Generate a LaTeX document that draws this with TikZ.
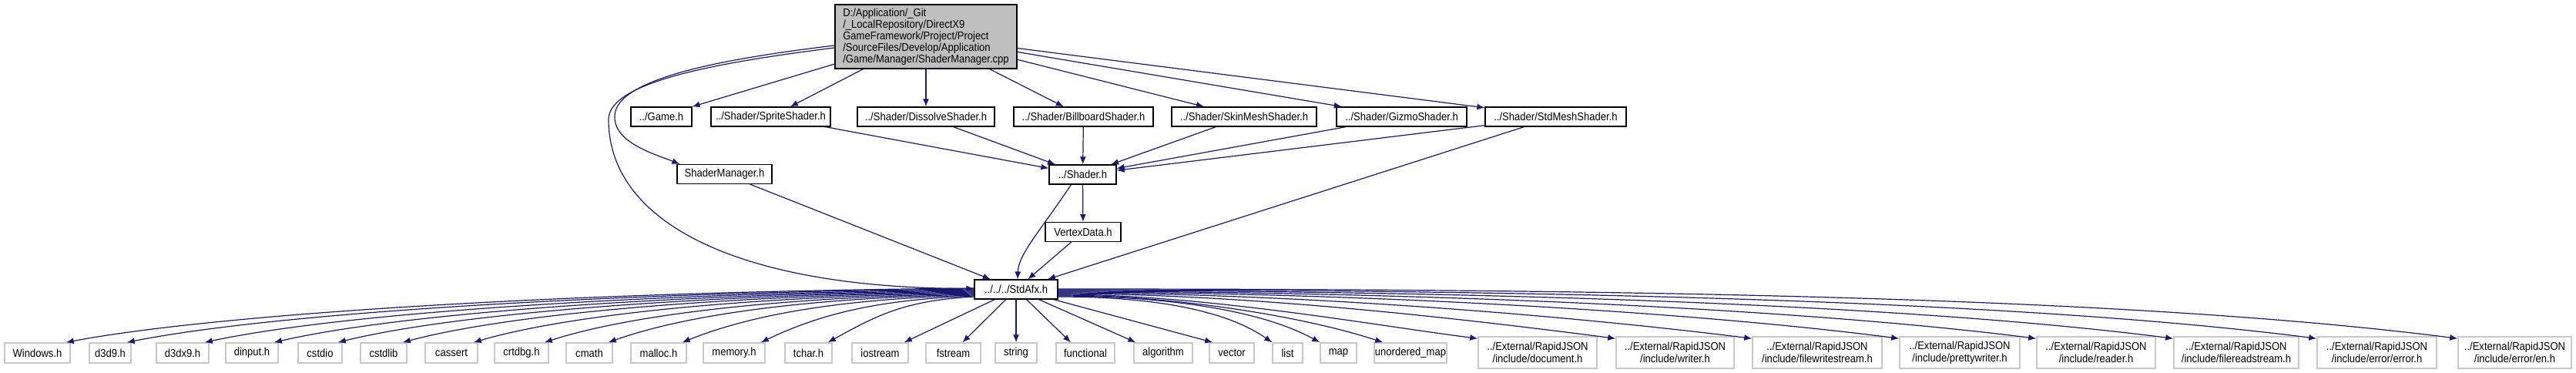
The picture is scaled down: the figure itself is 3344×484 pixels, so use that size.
\documentclass[tikz,border=0pt]{standalone}
\usepackage{fontspec}
\setmainfont{Liberation Sans}[FakeStretch=0.9]
\usepackage{xcolor}
\usetikzlibrary{arrows.meta}
\usetikzlibrary{math}
\definecolor{mynavy}{RGB}{25,25,112}
\definecolor{mygray}{RGB}{191,191,191}
\definecolor{mylightgray}{RGB}{200,200,200}

\tikzset{
  filebox/.style={draw=black, fill=white, line width=1.2pt, minimum height=25pt, inner xsep=1pt, inner ysep=0pt, font=\fontsize{14.5}{15}\selectfont},
  sysbox/.style={draw=mylightgray, fill=white, line width=1.5pt, minimum height=26pt, inner xsep=1pt, inner ysep=0pt, align=center, font=\fontsize{14.5}{16.5}\selectfont},
  dep/.style={draw=mynavy, line width=1.2pt, -{Latex[length=10pt,width=8pt]}},
}

\begin{document}
\begin{tikzpicture}[x=1pt,y=-1pt]
\tikzmath{
\yfile=151.5;
\yshader=226.5;
\yvertex=301;
\yafx=375.5;
\ysys=458;
}
\useasboundingbox (0,0) rectangle (3344,484);

\node[filebox, fill=mygray, align=left, inner xsep=10pt, inner ysep=3pt, minimum width=236pt, minimum height=83pt] (root) at (1202,47.5) {D:/Application/\_Git\\/\_LocalRepository/DirectX9\\GameFramework/Project/Project\\/SourceFiles/Develop/Application\\/Game/Manager/ShaderManager.cpp};

\node[filebox, minimum width=79pt] (game) at (858.5,\yfile) {../Game.h};
\node[filebox, minimum width=155pt] (sprite) at (1000.5,\yfile) {../Shader/SpriteShader.h};
\node[filebox, minimum width=178pt] (dissolve) at (1202,\yfile) {../Shader/DissolveShader.h};
\node[filebox, minimum width=181pt] (billboard) at (1406.5,\yfile) {../Shader/BillboardShader.h};
\node[filebox, minimum width=188pt] (skinmesh) at (1615,\yfile) {../Shader/SkinMeshShader.h};
\node[filebox, minimum width=169pt] (gizmo) at (1819.5,\yfile) {../Shader/GizmoShader.h};
\node[filebox, minimum width=183pt] (stdmesh) at (2019.5,\yfile) {../Shader/StdMeshShader.h};
\node[filebox, minimum width=123pt] (shadermgr) at (940.5,226) {ShaderManager.h};
\node[filebox, minimum width=87pt] (shader) at (1405.5,\yshader) {../Shader.h};
\node[filebox, minimum width=98pt] (vertex) at (1406,\yvertex) {VertexData.h};
\node[filebox, minimum width=108pt] (stdafx) at (1319,\yafx) {../../../StdAfx.h};

\node[sysbox, minimum width=85pt] (windows) at (48.5,\ysys) {Windows.h};
\node[sysbox, minimum width=54pt] (d3d9) at (143,\ysys) {d3d9.h};
\node[sysbox, minimum width=68pt] (d3dx9) at (237,\ysys) {d3dx9.h};
\node[sysbox, minimum width=68pt] (dinput) at (327,\ysys) {dinput.h};
\node[sysbox, minimum width=57pt] (cstdio) at (415.5,\ysys) {cstdio};
\node[sysbox, minimum width=60pt] (cstdlib) at (498,\ysys) {cstdlib};
\node[sysbox, minimum width=68pt] (cassert) at (586,\ysys) {cassert};
\node[sysbox, minimum width=70pt] (crtdbg) at (677,\ysys) {crtdbg.h};
\node[sysbox, minimum width=60pt] (cmath) at (765,\ysys) {cmath};
\node[sysbox, minimum width=72pt] (malloc) at (855,\ysys) {malloc.h};
\node[sysbox, minimum width=80pt] (memory) at (953,\ysys) {memory.h};
\node[sysbox, minimum width=61pt] (tchar) at (1049.5,\ysys) {tchar.h};
\node[sysbox, minimum width=73pt] (iostream) at (1142.5,\ysys) {iostream};
\node[sysbox, minimum width=71pt] (fstream) at (1237.5,\ysys) {fstream};
\node[sysbox, minimum width=54pt] (string) at (1319,\ysys) {string};
\node[sysbox, minimum width=76pt] (functional) at (1409,\ysys) {functional};
\node[sysbox, minimum width=76pt] (algorithm) at (1510,\ysys) {algorithm};
\node[sysbox, minimum width=58pt] (vector) at (1599,\ysys) {vector};
\node[sysbox, minimum width=39pt] (list) at (1671.5,\ysys) {list};
\node[sysbox, minimum width=47pt] (map) at (1737.5,\ysys) {map};
\node[sysbox, minimum width=92pt] (umap) at (1831,\ysys) {unordered\_map};
\node[sysbox, minimum width=154pt, minimum height=41pt] (jdocument) at (1996,457.5) {../External/RapidJSON\\/include/document.h};
\node[sysbox, minimum width=153pt, minimum height=41pt] (jwriter) at (2174.5,457.5) {../External/RapidJSON\\/include/writer.h};
\node[sysbox, minimum width=168pt, minimum height=41pt] (jfilewrite) at (2359,457.5) {../External/RapidJSON\\/include/filewritestream.h};
\node[sysbox, minimum width=156pt, minimum height=41pt] (jpretty) at (2544,457.5) {../External/RapidJSON\\/include/prettywriter.h};
\node[sysbox, minimum width=154pt, minimum height=41pt] (jreader) at (2721,457.5) {../External/RapidJSON\\/include/reader.h};
\node[sysbox, minimum width=162pt, minimum height=41pt] (jfileread) at (2903,457.5) {../External/RapidJSON\\/include/filereadstream.h};
\node[sysbox, minimum width=155pt, minimum height=41pt] (jerror) at (3085.5,457.5) {../External/RapidJSON\\/include/error/error.h};
\node[sysbox, minimum width=147pt, minimum height=41pt] (jen) at (3264.5,457.5) {../External/RapidJSON\\/include/error/en.h};

\draw[dep] (root) -- (game.north east);
\draw[dep] (root) -- (sprite);
\draw[dep] (root) -- (dissolve);
\draw[dep] (root) -- (billboard);
\draw[dep] (root) -- (skinmesh);
\draw[dep] (root) -- (gizmo);
\draw[dep] (root) -- (stdmesh);
\draw[dep] ([yshift=-11.5pt]root.west) .. controls (950,75) and (800,100) .. (798,150) .. controls (796,185) and (850,200) .. ([xshift=4pt]shadermgr.north west);
\draw[dep] ([yshift=-14.5pt]root.west) .. controls (940,80) and (790,105) .. (790,155) .. controls (790,290) and (960,374) .. ([yshift=1pt]stdafx.west);

\draw[dep] (sprite) -- (shader);
\draw[dep] (dissolve) -- (shader);
\draw[dep] (billboard) -- (shader);
\draw[dep] (skinmesh) -- (shader);
\draw[dep] (gizmo) -- (shader);
\draw[dep] (stdmesh) -- (shader);
\draw[dep] (stdmesh) -- (stdafx);
\draw[dep] (shader) -- (vertex);
\draw[dep] (vertex) -- (stdafx);
\draw[dep] (shadermgr) -- (stdafx);
\draw[dep] ([xshift=-15pt]shader.south) .. controls (1350,300) and (1322,330) .. ([xshift=2pt]stdafx.north);

\draw[dep] ([yshift=1.5pt]stdafx.west) .. controls (699,379) and (267,410) .. ([xshift=-6pt]windows.north east);
\draw[dep] ([yshift=0.5pt]stdafx.west) .. controls (737,380) and (336,410) .. ([xshift=-6pt]d3d9.north east);
\draw[dep] ([yshift=-0.5pt]stdafx.west) .. controls (785,381) and (425,410) .. ([xshift=-6pt]d3dx9.north east);
\draw[dep] ([yshift=-1.5pt]stdafx.west) .. controls (828,382) and (504,410) .. ([xshift=-6pt]dinput.north east);
\draw[dep] ([yshift=-2.5pt]stdafx.west) .. controls (868,383) and (577,410) .. ([xshift=-6pt]cstdio.north east);
\draw[dep] ([yshift=-3.5pt]stdafx.west) .. controls (908,384) and (651,410) .. ([xshift=-6pt]cstdlib.north east);
\draw[dep] ([yshift=-4.5pt]stdafx.west) .. controls (952,385) and (732,410) .. ([xshift=-6pt]cassert.north east);
\draw[dep] ([yshift=-5.5pt]stdafx.west) .. controls (997,386) and (813,410) .. ([xshift=-6pt]crtdbg.north east);
\draw[dep] ([yshift=-6.5pt]stdafx.west) .. controls (1036,387) and (886,410) .. ([xshift=-6pt]cmath.north east);
\draw[dep] ([yshift=-7.5pt]stdafx.west) .. controls (1083,388) and (971,410) .. ([xshift=-6pt]malloc.north east);
\draw[dep] ([yshift=-8.5pt]stdafx.west) .. controls (1132,389) and (1060,410) .. ([xshift=-6pt]memory.north east);
\draw[dep] ([yshift=-9.5pt]stdafx.west) .. controls (1173,390) and (1137,410) .. ([xshift=-6pt]tchar.north east);

\draw[dep] (stdafx) -- ([xshift=-6pt]iostream.north east);
\draw[dep] (stdafx) -- ([xshift=12pt]fstream.north);
\draw[dep] (stdafx) -- (string);
\draw[dep] (stdafx) -- ([xshift=-19pt]functional.north);
\draw[dep] (stdafx) -- ([xshift=3pt]algorithm.north west);
\draw[dep] (stdafx) -- ([xshift=5pt]vector.north west);

\draw[dep] ([yshift=-9.5pt]stdafx.east) .. controls (1471,385) and (1582,396) .. (list.north west);
\draw[dep] ([yshift=-8.5pt]stdafx.east) .. controls (1492,384) and (1629,398) .. (map.north west);
\draw[dep] ([yshift=-7.5pt]stdafx.east) .. controls (1521,383) and (1691,410) .. ([xshift=12pt]umap.north west);
\draw[dep] ([yshift=-6.5pt]stdafx.east) .. controls (1564,382) and (1782,422) .. ([yshift=-3pt]jdocument.north west);
\draw[dep] ([yshift=-5.5pt]stdafx.east) .. controls (1627,381) and (1917,416) .. ([yshift=-3pt]jwriter.north west);
\draw[dep] ([yshift=-4.5pt]stdafx.east) .. controls (1689,380) and (2049,411) .. ([yshift=-3pt]jfilewrite.north west);
\draw[dep] ([yshift=-3.5pt]stdafx.east) .. controls (1756,379) and (2193,404) .. ([yshift=-3pt]jpretty.north west);
\draw[dep] ([yshift=-2.5pt]stdafx.east) .. controls (1818,378) and (2326,399) .. ([yshift=-3pt]jreader.north west);
\draw[dep] ([yshift=-1.5pt]stdafx.east) .. controls (1880,377) and (2460,393) .. ([yshift=-3pt]jfileread.north west);
\draw[dep] ([yshift=-0.5pt]stdafx.east) .. controls (1945,376) and (2599,387) .. ([yshift=-3pt]jerror.north west);
\draw[dep] ([yshift=0.5pt]stdafx.east) .. controls (2009,375) and (2736,381) .. ([yshift=-3pt]jen.north west);
\end{tikzpicture}
\end{document}
